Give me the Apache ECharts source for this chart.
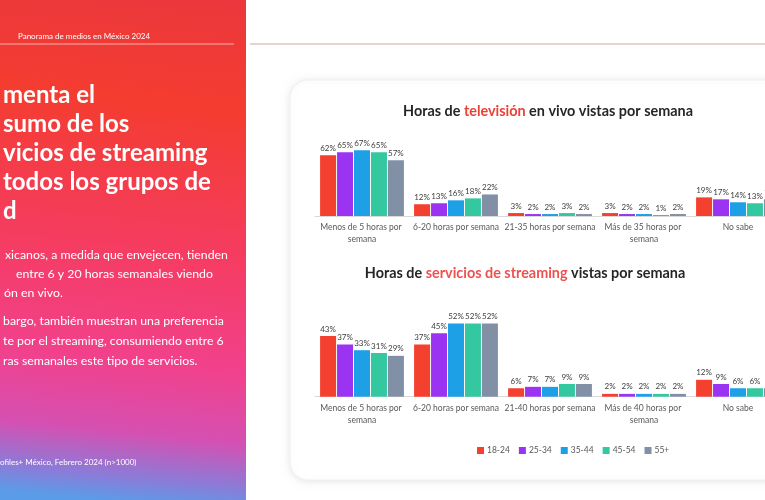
<!DOCTYPE html>
<html>
<head>
<meta charset="utf-8">
<script src="https://cdn.jsdelivr.net/npm/echarts@6/dist/echarts.min.js"></script>
<style>
html,body{margin:0;padding:0;background:#fff;overflow:hidden;}
#chart{width:800px;height:500px;}
</style>
</head>
<body>
<div id="chart"></div>
<script>
// ---- data ----
const ageGroups = ['18-24', '25-34', '35-44', '45-54', '55+'];
const tvCategories = ['Menos de 5 horas por semana', '6-20 horas por semana', '21-35 horas por semana', 'Más de 35 horas por semana', 'No sabe'];
const streamCategories = ['Menos de 5 horas por semana', '6-20 horas por semana', '21-40 horas por semana', 'Más de 40 horas por semana', 'No sabe'];
const tv_18_24 = [62, 12, 3, 3, 19];
const tv_25_34 = [65, 13, 2, 2, 17];
const tv_35_44 = [67, 16, 2, 2, 14];
const tv_45_54 = [65, 18, 3, 1, 13];
const tv_55 = [57, 22, 2, 2, 17];
const st_18_24 = [43, 37, 6, 2, 12];
const st_25_34 = [37, 45, 7, 2, 9];
const st_35_44 = [33, 52, 7, 2, 6];
const st_45_54 = [31, 52, 9, 2, 6];
const st_55 = [29, 52, 9, 2, 6];
const tvSeries = [tv_18_24, tv_25_34, tv_35_44, tv_45_54, tv_55];
const stSeries = [st_18_24, st_25_34, st_35_44, st_45_54, st_55];

const colors = ['#f4402f', '#9b33f3', '#1ea0e6', '#34c8a0', '#8290a6'];
const FONT = 'Lato, "Open Sans", sans-serif';

const chart = echarts.init(document.getElementById('chart'), null, {renderer: 'canvas'});

function makeSeries(arr, idx) {
  return arr.map((d, i) => ({
    name: ageGroups[i],
    type: 'bar',
    xAxisIndex: idx, yAxisIndex: idx,
    data: d,
    barWidth: 16,
    barGap: '6%',
    itemStyle: {color: colors[i]},
    label: {show: true, position: 'top', distance: 3, formatter: '{c}%', fontSize: 8, color: '#404040', fontFamily: FONT},
    emphasis: {disabled: true},
    animation: false
  }));
}

const axisLabelStyle = {interval: 0, fontSize: 8.5, color: '#595959', fontFamily: FONT, width: 92, overflow: 'break', lineHeight: 11.5, margin: 6};

const leftLines = [
  {t: 'menta el', y: 95}, {t: 'sumo de los', y: 124}, {t: 'vicios de streaming', y: 153},
  {t: 'todos los grupos de', y: 182}, {t: 'd', y: 211}
];
const bodyLines = [
  {t: 'xicanos, a medida que envejecen, tienden', y: 255, x: 5},
  {t: 'entre 6 y 20 horas semanales viendo', y: 274, x: 16},
  {t: 'ón en vivo.', y: 293, x: 4},
  {t: 'bargo, también muestran una preferencia', y: 321, x: 3},
  {t: 'te por el streaming, consumiendo entre 6', y: 341, x: 3},
  {t: 'ras semanales este tipo de servicios.', y: 361, x: 3}
];

const graphics = [
  {type: 'rect', shape: {x: 0, y: 0, width: 246, height: 500}, z: -10,
   style: {fill: new echarts.graphic.LinearGradient(0.6, 0, 0.4, 1, [
     {offset: 0, color: '#ec383c'}, {offset: 0.2, color: '#f43c30'}, {offset: 0.5, color: '#f53c62'},
     {offset: 0.72, color: '#f1418c'}, {offset: 0.86, color: '#d550b2'}, {offset: 0.95, color: '#8a7cd8'}, {offset: 1, color: '#5a9ce8'}])}},
  {type: 'line', shape: {x1: 0, y1: 44, x2: 234, y2: 44}, style: {stroke: 'rgba(255,255,255,0.6)', lineWidth: 1}},
  {type: 'line', shape: {x1: 250, y1: 44, x2: 800, y2: 44}, style: {stroke: '#cfa6a6', lineWidth: 1}},
  {type: 'text', x: 18, y: 36, style: {text: 'Panorama de medios en México 2024', fill: '#fff', font: '8px ' + FONT, textVerticalAlign: 'middle'}},
  {type: 'text', x: 0, y: 462, style: {text: 'ofiles+ México, Febrero 2024 (n>1000)', fill: '#fff', font: '8px ' + FONT, textVerticalAlign: 'middle'}},
  {type: 'rect', shape: {x: 290, y: 80, width: 540, height: 400, r: 18}, z: -5,
   style: {fill: '#fff', stroke: '#f0f0f0', lineWidth: 1, shadowBlur: 8, shadowColor: 'rgba(0,0,0,0.10)', shadowOffsetX: 0, shadowOffsetY: 1}},
  {type: 'text', x: 548, y: 111, style: {
    text: '{a|Horas de }{b|televisión}{a| en vivo vistas por semana}', textAlign: 'center', textVerticalAlign: 'middle',
    rich: {a: {fontSize: 14.4, fontWeight: 'bold', fill: '#262626', fontFamily: FONT}, b: {fontSize: 14.4, fontWeight: 'bold', fill: '#ea4137', fontFamily: FONT}}}},
  {type: 'text', x: 525, y: 273, style: {
    text: '{a|Horas de }{b|servicios de streaming}{a| vistas por semana}', textAlign: 'center', textVerticalAlign: 'middle',
    rich: {a: {fontSize: 14.4, fontWeight: 'bold', fill: '#262626', fontFamily: FONT}, b: {fontSize: 14.4, fontWeight: 'bold', fill: '#ef5050', fontFamily: FONT}}}}
];
leftLines.forEach(l => graphics.push({type: 'text', x: 3, y: l.y, style: {text: l.t, fill: '#fff', font: 'bold 24px ' + FONT, textVerticalAlign: 'middle'}}));
bodyLines.forEach(l => graphics.push({type: 'text', x: l.x, y: l.y, style: {text: l.t, fill: '#fff', font: '12.3px ' + FONT, textVerticalAlign: 'middle'}}));

chart.setOption({
  animation: false,
  textStyle: {fontFamily: FONT},
  grid: [
    {left: 315, width: 470, top: 147.4, height: 68.6, containLabel: false},
    {left: 315, width: 470, top: 319.2, height: 77.5, containLabel: false}
  ],
  xAxis: [
    {type: 'category', gridIndex: 0, data: tvCategories, axisTick: {show: false}, axisLine: {lineStyle: {color: '#d9d9d9'}}, axisLabel: axisLabelStyle},
    {type: 'category', gridIndex: 1, data: streamCategories, axisTick: {show: false}, axisLine: {lineStyle: {color: '#d9d9d9'}}, axisLabel: axisLabelStyle}
  ],
  yAxis: [
    {type: 'value', gridIndex: 0, min: 0, max: 70, show: false},
    {type: 'value', gridIndex: 1, min: 0, max: 55, show: false}
  ],
  legend: {data: ageGroups, top: 441, left: 472, icon: 'rect', itemWidth: 7, itemHeight: 7, itemGap: 9,
    textStyle: {fontSize: 8.5, color: '#595959', fontFamily: FONT, padding: [0, 0, 0, -2]}},
  graphic: graphics,
  series: makeSeries(tvSeries, 0).concat(makeSeries(stSeries, 1))
});
</script>
</body>
</html>
